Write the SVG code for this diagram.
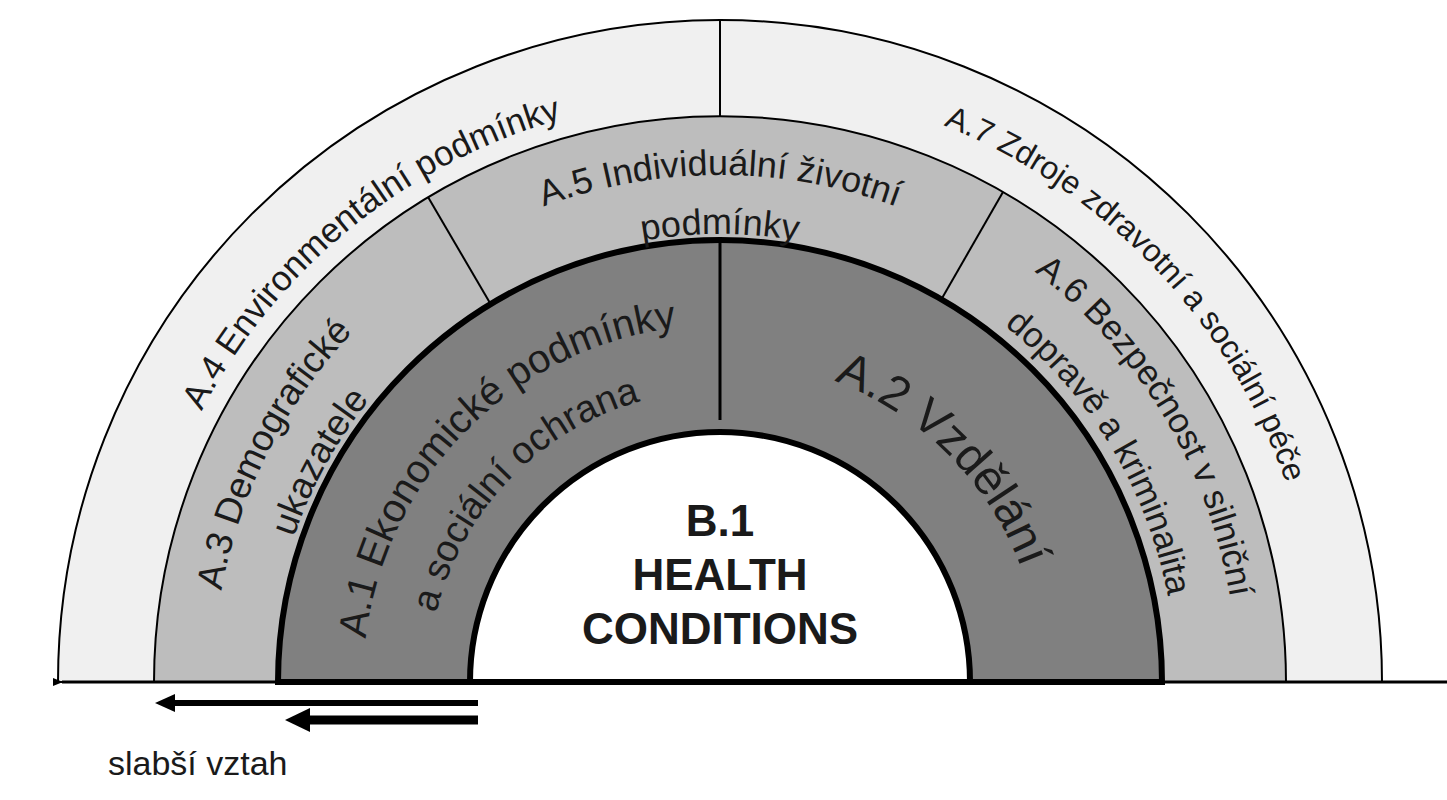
<svg xmlns="http://www.w3.org/2000/svg" width="1447" height="800" viewBox="0 0 1447 800">
<style>
.t{font-family:"Liberation Sans",Arial,sans-serif;fill:#1a1a1a}
.ln{stroke:#000;fill:none}
</style>
<defs>
<path id="p4" d="M 135 682 A 585 585 0 0 1 1305 682"/>
<path id="p7" d="M 120 682 A 600 600 0 0 1 1320 682"/>
<path id="p5a" d="M 213 682 A 507 507 0 0 1 1227 682"/>
<path id="p6a" d="M 203 682 A 517 517 0 0 1 1237 682"/>
<path id="p5b" d="M 272 682 A 448 448 0 0 1 1168 682"/>
<path id="p3b" d="M 270 682 A 450 450 0 0 1 1170 682"/>
<path id="p6b" d="M 264 682 A 456 456 0 0 1 1176 682"/>
<path id="p1a" d="M 363 682 A 357 357 0 0 1 1077 682"/>
<path id="p1b" d="M 428 682 A 292 292 0 0 1 1012 682"/>
<path id="p2" d="M 398 682 A 322 322 0 0 1 1042 682"/>
<marker id="ah" markerWidth="10" markerHeight="8" refX="1" refY="4" orient="auto" markerUnits="userSpaceOnUse"><path d="M10 0 L0 4 L10 8 Z" fill="#000"/></marker>
</defs>
<rect width="1447" height="800" fill="#fff"/>
<g id="rings">
<path d="M 58 682 A 662 662 0 0 1 1382 682 Z" fill="#f0f0f0" stroke="#000" stroke-width="2"/>
<path d="M 154 682 A 566 566 0 0 1 1286 682 Z" fill="#bdbdbd" stroke="#000" stroke-width="2"/>
<path d="M 278 682 A 442 442 0 0 1 1162 682 Z" fill="#808080" stroke="#000" stroke-width="6"/>
<path d="M 470 682 A 250 250 0 0 1 970 682 Z" fill="#fff" stroke="#000" stroke-width="6"/>
</g>
<g id="dividers">
<line class="ln" x1="720" y1="20" x2="720" y2="116" stroke-width="2"/>
<line class="ln" x1="428" y1="197" x2="490" y2="303" stroke-width="2"/>
<line class="ln" x1="1003" y1="192" x2="941" y2="300" stroke-width="2"/>
<line class="ln" x1="720" y1="243" x2="720" y2="420" stroke-width="3"/>
</g>
<g id="connectors">
<line x1="1447" y1="682" x2="62" y2="682" stroke="#000" stroke-width="3" marker-end="url(#ah)"/>
<line x1="478" y1="703" x2="172" y2="703" stroke="#000" stroke-width="6"/>
<path d="M155 703 L175 694 L175 712 Z"/>
<line x1="478" y1="720" x2="300" y2="720" stroke="#000" stroke-width="9"/>
<path d="M285 720 L310 708 L310 732 Z"/>
</g>
<g id="labels">
<text class="t" font-size="35"><textPath href="#p4" startOffset="28.3%" text-anchor="middle">A.4 Environmentální  podmínky</textPath></text>
<text class="t" font-size="32"><textPath href="#p7" startOffset="75.7%" text-anchor="middle">A.7 Zdroje  zdravotní a sociální péče</textPath></text>
<text class="t" font-size="36"><textPath href="#p5a" startOffset="50%" text-anchor="middle">A.5 Individuální  životní</textPath></text>
<text class="t" font-size="36"><textPath href="#p5b" startOffset="50%" text-anchor="middle">podmínky</textPath></text>
<text class="t" font-size="37"><textPath href="#p5a" startOffset="15%" text-anchor="middle">A.3 Demografické</textPath></text>
<text class="t" font-size="37"><textPath href="#p3b" startOffset="16%" text-anchor="middle">ukazatele</textPath></text>
<text class="t" font-size="35"><textPath href="#p6a" startOffset="82.8%" text-anchor="middle">A.6 Bezpečnost  v silniční</textPath></text>
<text class="t" font-size="35"><textPath href="#p6b" startOffset="82.7%" text-anchor="middle">dopravě  a kriminalita</textPath></text>
<text class="t" font-size="40"><textPath href="#p1a" startOffset="25%" text-anchor="middle">A.1 Ekonomické podmínky</textPath></text>
<text class="t" font-size="38"><textPath href="#p1b" startOffset="24.4%" text-anchor="middle">a sociální ochrana</textPath></text>
<text class="t" font-size="48"><textPath href="#p2" startOffset="75%" text-anchor="middle">A.2 Vzdělání</textPath></text>
<g id="b1" class="t" font-size="44" font-weight="bold" text-anchor="middle">
<text x="720" y="536">B.1</text>
<text x="720" y="590">HEALTH</text>
<text x="720" y="644">CONDITIONS</text>
</g>
<text class="t" x="108" y="775" font-size="34">slabší vztah</text>
</g>
</svg>
